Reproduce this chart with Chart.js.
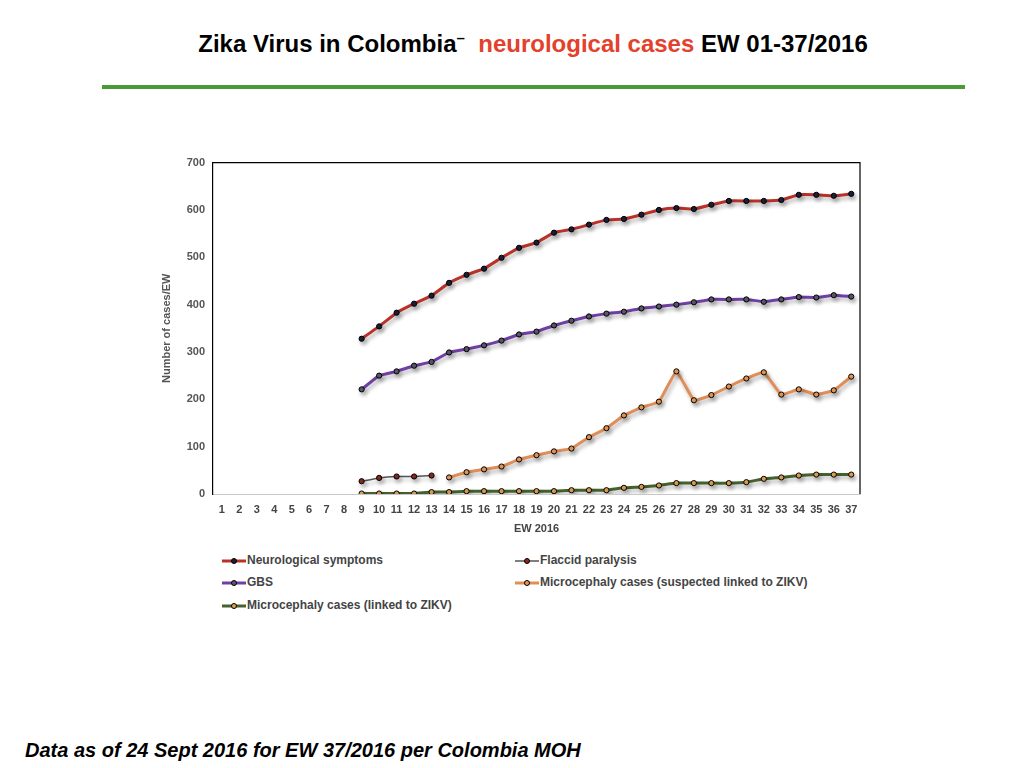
<!DOCTYPE html>
<html>
<head>
<meta charset="utf-8">
<script src="https://cdn.jsdelivr.net/npm/chart.js@4"></script>
<style>
  body { margin: 0; width: 1024px; height: 768px; background: #fff; font-family: "Liberation Sans", Arial, sans-serif; position: relative; overflow: hidden; }
  #title { position: absolute; top: 29px; left: 0; width: 1066px; text-align: center; font-weight: bold; font-size: 24px; color: #000; }
  #title .red { color: #e3412b; }
  #rule { position: absolute; left: 102px; top: 85px; width: 863px; height: 4px; background: #4a9a35; }
  #box { position: absolute; left: 160px; top: 148px; width: 710px; height: 392px; }
  #legend { position: absolute; left: 222px; top: 552px; width: 600px; font-weight: bold; font-size: 12px; color: #444; }
  .item { position: absolute; height: 16px; line-height: 16px; white-space: nowrap; }
  .item canvas { vertical-align: middle; margin-right: 1px; }
  #foot { position: absolute; left: 25px; top: 739px; font-weight: bold; font-style: italic; font-size: 20px; color: #000; }
</style>
</head>
<body>
<div id="title">Zika Virus in Colombia<sup style="font-size:15px">–</sup>&nbsp; <span class="red">neurological cases</span> EW 01-37/2016</div>
<div id="rule"></div>
<div id="box"><canvas id="zika"></canvas></div>
<div id="legend"></div>
<div id="foot">Data as of 24 Sept 2016 for EW 37/2016 per Colombia MOH</div>
<script>
// semanas epidemiologicas 1..37
const weeks = [];
for (let w = 1; w <= 37; w++) weeks.push(String(w));

const yTicks = [0, 100, 200, 300, 400, 500, 600, 700];

// semanas 1-8 sin datos
const neuro = [null, null, null, null, null, null, null, null,
  328, 354, 383, 402, 419, 446, 463, 476, 499, 520, 531, 552, 559, 569, 579, 581,
  590, 600, 604, 602, 611, 619, 619, 619, 621, 632, 632, 630, 634];
const gbs = [null, null, null, null, null, null, null, null,
  221, 250, 259, 271, 279, 299, 306, 314, 324, 337, 343, 356, 366, 375, 381, 385,
  392, 396, 400, 405, 411, 411, 411, 406, 411, 416, 415, 420, 417];
const flaccid = [null, null, null, null, null, null, null, null,
  27, 34, 37, 37, 39];
const microSusp = [null, null, null, null, null, null, null, null, null, null, null, null, null,
  35, 46, 52, 58, 73, 82, 90, 96, 120, 139, 166,
  183, 195, 259, 198, 209, 227, 244, 257, 210, 221, 210, 219, 248];
const microLinked = [null, null, null, null, null, null, null, null,
  1, 1, 1, 1, 4, 4, 6, 6, 6, 6, 6, 6, 8, 8, 8, 13,
  15, 18, 23, 23, 23, 23, 25, 32, 35, 39, 41, 41, 41];

const series = [
  { label: 'Neurological symptoms', data: neuro, line: '#b8322a', dot: '#1c1f3a', width: 3 },
  { label: 'Flaccid paralysis', data: flaccid, line: '#555555', dot: '#8a2a20', width: 1.5 },
  { label: 'GBS', data: gbs, line: '#6f3fa3', dot: '#5a5a6a', width: 3 },
  { label: 'Microcephaly cases (suspected linked to ZIKV)', data: microSusp, line: '#e08e58', dot: '#e89a55', width: 3 },
  { label: 'Microcephaly cases (linked to ZIKV)', data: microLinked, line: '#46612f', dot: '#e0a050', width: 3 }
];

// sombra bajo las lineas
const shadow = {
  id: 'shadow',
  beforeDatasetsDraw(chart) {
    const c = chart.ctx;
    c.save();
    c.shadowColor = 'rgba(0,0,0,0.3)';
    c.shadowBlur = 4;
    c.shadowOffsetX = 2;
    c.shadowOffsetY = 3;
  },
  afterDatasetsDraw(chart) { chart.ctx.restore(); }
};

// borde negro arriba y a la derecha
const frame = {
  id: 'frame',
  afterDraw(chart) {
    const a = chart.chartArea, c = chart.ctx;
    c.save();
    c.strokeStyle = '#000';
    c.lineWidth = 1.2;
    c.beginPath();
    c.moveTo(a.left, a.top);
    c.lineTo(a.right, a.top);
    c.lineTo(a.right, a.bottom);
    c.stroke();
    c.restore();
  }
};

const tickFont = { family: 'Liberation Sans', weight: 'bold', size: 11 };

new Chart(document.getElementById('zika'), {
  type: 'line',
  data: {
    labels: weeks,
    datasets: series.map(s => ({
      label: s.label,
      data: s.data,
      borderColor: s.line,
      borderWidth: s.width,
      pointBackgroundColor: s.dot,
      pointBorderColor: '#000',
      pointBorderWidth: 1,
      pointRadius: 2.6,
      tension: 0.1,
      spanGaps: false
    }))
  },
  options: {
    responsive: true,
    maintainAspectRatio: false,
    animation: false,
    layout: { padding: { top: 9, right: 10, left: 0, bottom: 0 } },
    plugins: { legend: { display: false }, tooltip: { enabled: false } },
    scales: {
      x: {
        offset: true,
        grid: { display: false, drawTicks: false },
        border: { color: '#c8c8c8', width: 1 },
        ticks: { color: '#444', font: tickFont, maxRotation: 0, autoSkip: false, padding: 9 },
        title: { display: true, text: 'EW 2016', color: '#444', font: tickFont, padding: { top: 4 } },
        afterFit(s) { s.height = 46; }
      },
      y: {
        min: 0, max: 700,
        afterBuildTicks(s) { s.ticks = yTicks.map(v => ({ value: v })); },
        grid: { display: false, drawTicks: false },
        border: { color: '#000', width: 1.2 },
        ticks: { color: '#555', font: tickFont, padding: 8 },
        title: { display: true, text: 'Number of cases/EW', color: '#555', font: tickFont, padding: 0 },
        afterFit(s) { s.width = 53; }
      }
    }
  },
  plugins: [shadow, frame]
});

// leyenda en dos columnas
const pos = [[0, 0], [293, 0], [0, 22], [293, 22], [0, 45]];
const legend = document.getElementById('legend');
series.forEach((s, i) => {
  const d = document.createElement('div');
  d.className = 'item';
  d.style.left = pos[i][0] + 'px';
  d.style.top = pos[i][1] + 'px';
  const cv = document.createElement('canvas');
  cv.width = 24; cv.height = 10;
  const g = cv.getContext('2d');
  g.strokeStyle = s.line; g.lineWidth = s.width;
  g.beginPath(); g.moveTo(0, 5); g.lineTo(24, 5); g.stroke();
  g.fillStyle = s.dot; g.strokeStyle = '#000'; g.lineWidth = 1;
  g.beginPath(); g.arc(12, 5, 2.5, 0, Math.PI * 2); g.fill(); g.stroke();
  d.appendChild(cv);
  d.appendChild(document.createTextNode(s.label));
  legend.appendChild(d);
});
</script>
</body>
</html>
